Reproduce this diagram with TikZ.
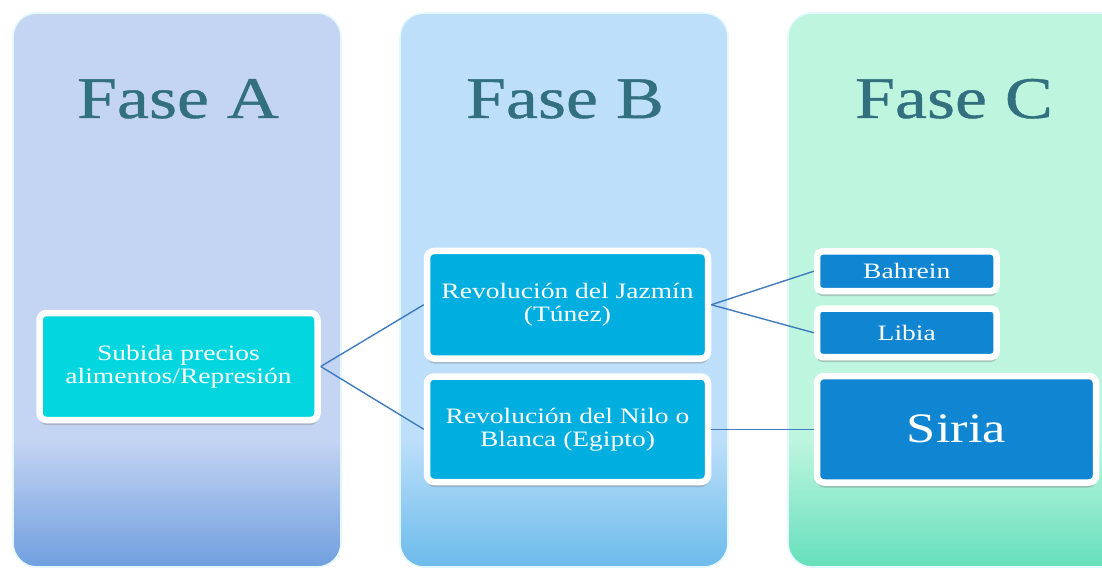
\documentclass[tikz,border=0pt]{standalone}
\usepackage{fontspec}
\setmainfont{Liberation Serif}[FakeStretch=1.25]
\newfontfamily\titlefont{Liberation Serif}[FakeStretch=1.22,FakeBold=0.7]
\usetikzlibrary{shadows}
\definecolor{panA}{HTML}{C4D4F3}
\definecolor{panAb}{HTML}{6E9EDE}
\definecolor{panB}{HTML}{BDDFFA}
\definecolor{panBb}{HTML}{6ABAEA}
\definecolor{panC}{HTML}{BEF5DF}
\definecolor{panCb}{HTML}{64DFBA}
\definecolor{panedge}{HTML}{E4F8FF}
\definecolor{titc}{HTML}{33707F}
\definecolor{cyanbox}{HTML}{04D6E0}
\definecolor{skybox}{HTML}{01AEE0}
\definecolor{bluebox}{HTML}{1085D2}
\definecolor{linkc}{HTML}{3F7BBE}
\begin{document}
\begin{tikzpicture}[x=1pt,y=-1pt,
  box/.style={rectangle, rounded corners=7pt, draw=white, line width=6.5pt,
    text=white, align=center, inner sep=0pt,
    font=\fontsize{22}{23}\selectfont,
    drop shadow={shadow xshift=0pt, shadow yshift=-5pt, opacity=0.4}},
  title/.style={text=titc, font=\titlefont\fontsize{59}{60}\selectfont, inner sep=0pt, anchor=base},
  link/.style={draw=linkc, line width=1.4pt},
  panelline/.style={draw=panedge, line width=1.6pt, rounded corners=24pt}]
\useasboundingbox (0,0) rectangle (1102,569);
\clip (0,0) rectangle (1102,569);
% panel A
\begin{scope}
  \clip[rounded corners=24pt] (13,13) rectangle (341,567);
  \fill[panA] (0,0) rectangle (400,569);
  \shade[top color=panA, bottom color=panAb] (0,440) rectangle (400,569);
\end{scope}
\draw[panelline] (13,13) rectangle (341,567);
% panel B
\begin{scope}
  \clip[rounded corners=24pt] (400,13) rectangle (728,567);
  \fill[panB] (380,0) rectangle (760,569);
  \shade[top color=panB, bottom color=panBb] (380,440) rectangle (760,569);
\end{scope}
\draw[panelline] (400,13) rectangle (728,567);
% panel C
\begin{scope}
  \clip[rounded corners=24pt] (788,13) rectangle (1130,567);
  \fill[panC] (770,0) rectangle (1140,569);
  \shade[top color=panC, bottom color=panCb] (770,440) rectangle (1140,569);
\end{scope}
\draw[panelline] (788,13) rectangle (1130,567);
% titles
\node[title] (ta) at (178,118) {Fase A};
\node[title] (tb) at (565,118) {Fase B};
\node[title] (tc) at (954,118) {Fase C};
% boxes
\node[box, fill=cyanbox, minimum width=278pt, minimum height=107pt] (sub) at (178.5,366.5) {Subida precios\\alimentos/Represión};
\node[box, fill=skybox, minimum width=281pt, minimum height=107.5pt] (jaz) at (567.5,304.75) {Revolución del Jazmín\\(Túnez)};
\node[box, fill=skybox, minimum width=281pt, minimum height=105.5pt] (nilo) at (567.5,429.25) {Revolución del Nilo o\\Blanca (Egipto)};
\node[box, fill=bluebox, rounded corners=5pt, minimum width=179.5pt, minimum height=39.5pt] (bah) at (906.75,271.25) {Bahrein};
\node[box, fill=bluebox, rounded corners=5pt, minimum width=179.5pt, minimum height=48.5pt] (lib) at (906.75,332.75) {Libia};
\node[box, fill=bluebox, minimum width=279pt, minimum height=106.5pt, font=\fontsize{42}{44}\selectfont] (sir) at (956.5,429.25) {Siria};
% connectors
\draw[link] (sub.east) -- (jaz.west);
\draw[link] (sub.east) -- (nilo.west);
\draw[link] (jaz.east) -- (bah.west);
\draw[link] (jaz.east) -- (lib.west);
\draw[link] (nilo.east) -- (sir.west);
\end{tikzpicture}
\end{document}
